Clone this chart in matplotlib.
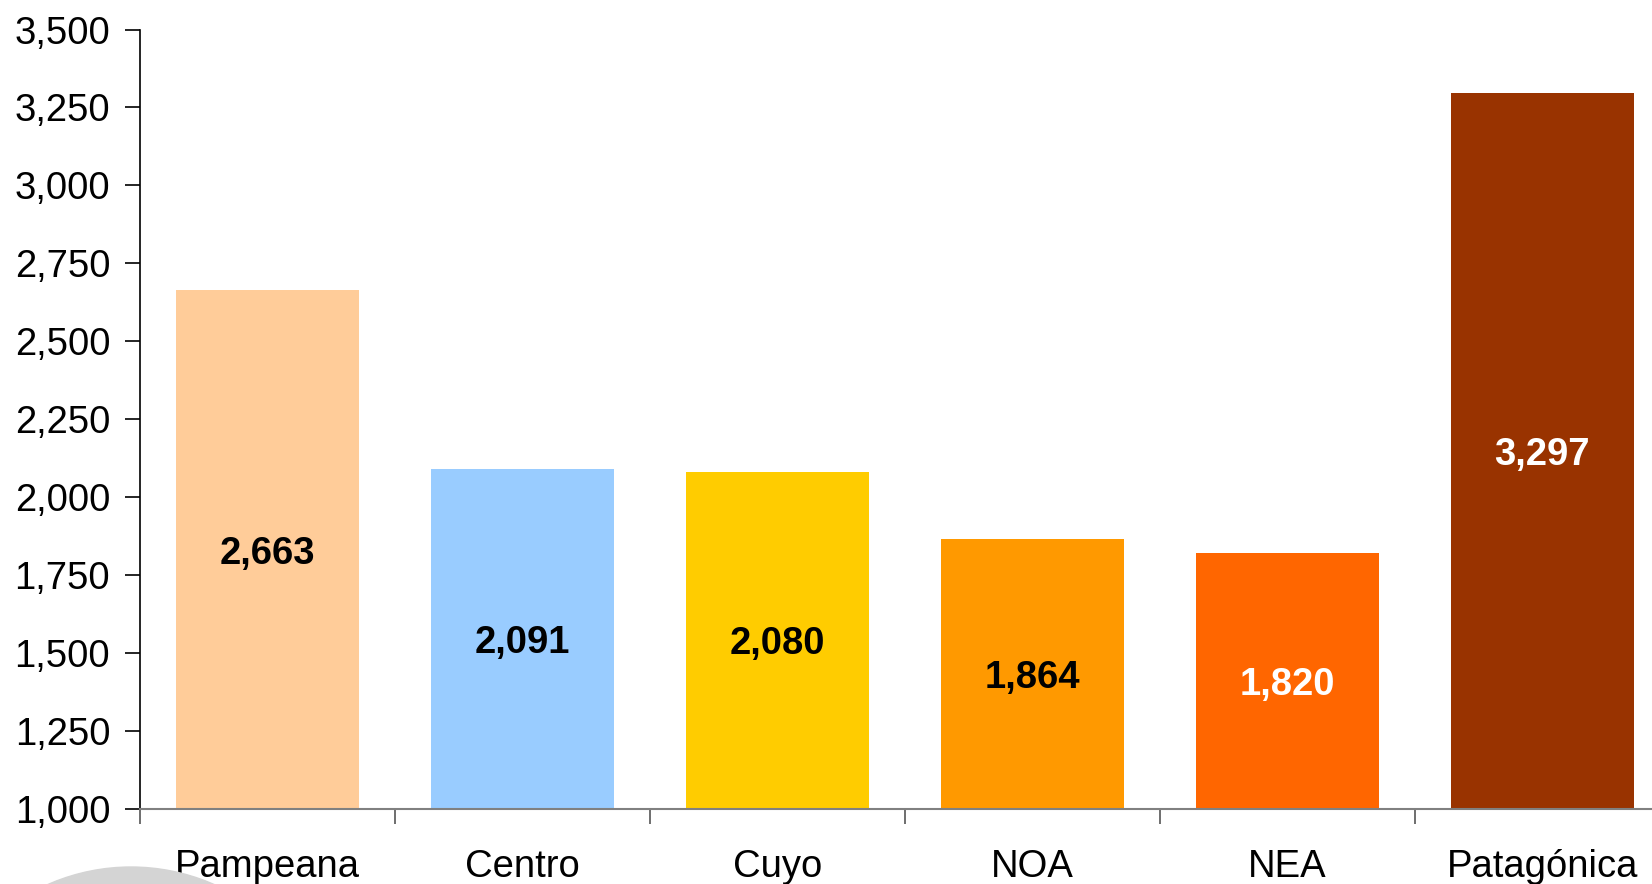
import matplotlib.pyplot as plt
from matplotlib.patches import Circle
from matplotlib.ticker import FuncFormatter
import numpy as np

# Regiones y valores
regiones = ["Pampeana", "Centro", "Cuyo", "NOA", "NEA", "Patagónica"]
valores = [2663, 2091, 2080, 1864, 1820, 3297]
colores = ["#FFCC99", "#99CCFF", "#FFCC00", "#FF9900", "#FF6600", "#993300"]
color_etiqueta = ["black", "black", "black", "black", "white", "white"]

plt.rcParams['font.family'] = ['Liberation Sans', 'DejaVu Sans']

fig = plt.figure(figsize=(16.52, 8.84), dpi=100)
ax = fig.add_axes([0.0848, 0.0852, 0.926, 0.8814])

base = 1000
x = np.arange(len(regiones))
alturas = [v - base for v in valores]
ax.bar(x, alturas, bottom=base, width=0.72, color=colores, zorder=2)

for xi, v, c in zip(x, valores, color_etiqueta):
    ax.text(xi, (base + v) / 2, f"{v:,}", ha="center", va="center_baseline",
            fontsize=27.5, fontweight="bold", color=c, zorder=3)

ax.set_xlim(-0.5, len(regiones) - 0.5)
ax.set_ylim(1000, 3500)
ax.set_yticks(np.arange(1000, 3501, 250))
ax.yaxis.set_major_formatter(FuncFormatter(lambda v, p: f"{int(v):,}"))

# etiquetas centradas, marcas en los limites de cada categoria
ax.set_xticks(x)
ax.set_xticklabels(regiones)
ax.set_xticks(np.arange(-0.5, len(regiones)), minor=True)
ax.tick_params(axis="x", which="major", length=0, pad=29, labelsize=27.5)
ax.tick_params(axis="x", which="minor", length=11, width=1.2, color="#555555")
ax.tick_params(axis="y", length=11, width=1.2, pad=10.5, labelsize=27.5)

for s in ["top", "right"]:
    ax.spines[s].set_visible(False)
ax.spines["left"].set_linewidth(1.2)
ax.spines["bottom"].set_color("#808080")
ax.spines["bottom"].set_linewidth(1.5)
ax.spines["bottom"].set_zorder(4)

# fragmento de logo gris en la esquina inferior izquierda
logo = Circle((1.31, -1.89), 2.06, color="#d4d4d4",
              transform=fig.dpi_scale_trans, zorder=0)
fig.patches.append(logo)

fig.savefig("out.png", dpi=100)
